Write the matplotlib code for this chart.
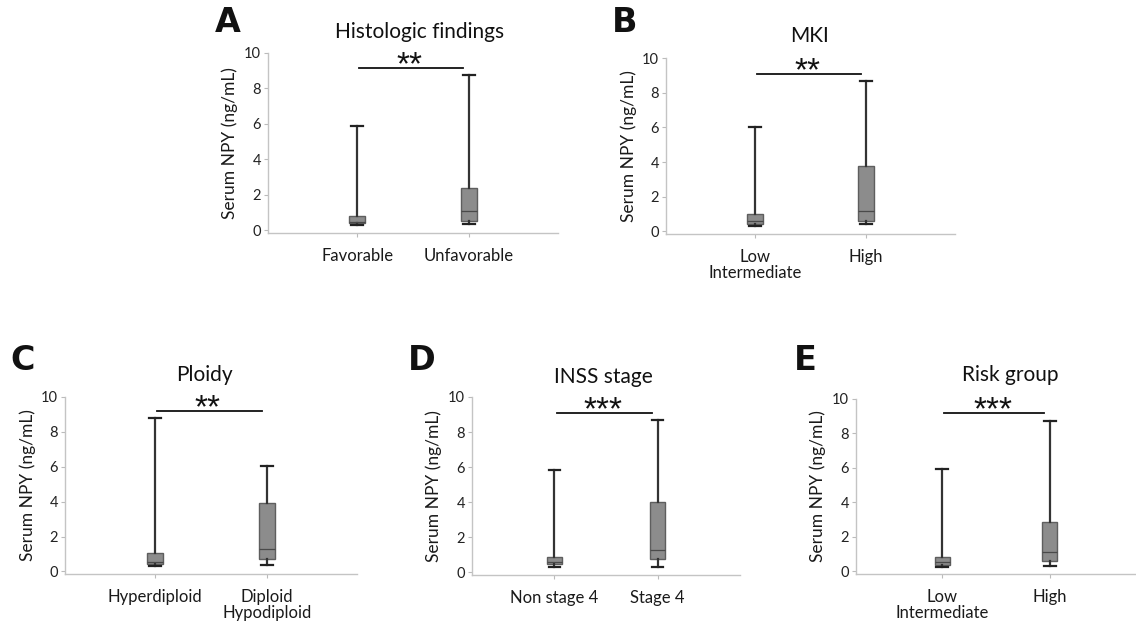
import matplotlib
matplotlib.use('Agg')
import matplotlib.pyplot as plt

plt.rcParams['font.family'] = ['Lato', 'DejaVu Sans']

# panel titles / letters / group labels
letters = ['A', 'B', 'C', 'D', 'E']
titles = ['Histologic findings', 'MKI', 'Ploidy', 'INSS stage', 'Risk group']
groups = [
    ['Favorable', 'Unfavorable'],
    ['Low\nIntermediate', 'High'],
    ['Hyperdiploid', 'Diploid\nHypodiploid'],
    ['Non stage 4', 'Stage 4'],
    ['Low\nIntermediate', 'High'],
]
stars = ['**', '**', '**', '***', '***']

# box stats: [group1, group2] per panel
whis_lo = [[0.30, 0.35], [0.30, 0.40], [0.30, 0.35], [0.30, 0.30], [0.25, 0.30]]
q1      = [[0.40, 0.55], [0.40, 0.60], [0.45, 0.70], [0.45, 0.75], [0.40, 0.60]]
median  = [[0.45, 1.10], [0.60, 1.20], [0.55, 1.30], [0.60, 1.30], [0.55, 1.10]]
q3      = [[0.80, 2.40], [1.00, 3.75], [1.05, 3.90], [0.85, 4.00], [0.85, 2.85]]
whis_hi = [[5.90, 8.75], [6.00, 8.70], [8.80, 6.05], [5.85, 8.70], [5.95, 8.75]]
sig_y   = [9.15, 9.10, 9.20, 9.10, 9.20]

W, H = 1136, 621
# axes boxes in pixels: left, right, top (y=10), bottom (spine)
boxes = [
    (268, 558, 53, 233),
    (666, 955, 58, 234),
    (65, 357, 397, 574),
    (472, 740, 397, 575),
    (856, 1136, 399, 574),
]
letter_pos = [(228, 22), (625, 22), (23, 360), (422, 360), (805, 360)]
title_pos = [(420, 32), (810, 36), (204, 375), (603, 377), (1010, 375)]
YMIN = -0.15

fig = plt.figure(figsize=(W / 100, H / 100), dpi=100)

for i, (l, r, t, b) in enumerate(boxes):
    ax = fig.add_axes([l / W, 1 - b / H, (r - l) / W, (b - t) / H])
    stats = []
    for j in range(2):
        stats.append({
            'whislo': whis_lo[i][j], 'q1': q1[i][j], 'med': median[i][j],
            'q3': q3[i][j], 'whishi': whis_hi[i][j], 'fliers': [],
        })
    ax.bxp(stats, positions=[0, 1], widths=0.14, patch_artist=True,
           showfliers=False,
           boxprops=dict(facecolor='#8c8c8c', edgecolor='#5e5e5e', linewidth=1.0),
           medianprops=dict(color='#4a4a4a', linewidth=0.9),
           whiskerprops=dict(color='#333333', linewidth=1.6),
           capprops=dict(color='#222222', linewidth=1.6),
           capwidths=0.11)
    ax.set_xlim(-0.8, 1.8)
    ax.set_ylim(YMIN, 10)
    ax.set_yticks([0, 2, 4, 6, 8, 10])
    ax.set_xticks([0, 1])
    ax.set_xticklabels(groups[i], fontsize=12, color='#1a1a1a', linespacing=0.95)
    ax.tick_params(axis='y', labelsize=10.5, colors='#bbbbbb', labelcolor='#222222',
                   length=3, width=0.8, pad=2)
    ax.tick_params(axis='x', colors='#bbbbbb', labelcolor='#1a1a1a',
                   length=3, width=0.8, pad=8)
    for s in ['top', 'right']:
        ax.spines[s].set_visible(False)
    for s in ['left', 'bottom']:
        ax.spines[s].set_color('#c4c4c4')
        ax.spines[s].set_linewidth(1.0)
    ax.set_ylabel('Serum NPY (ng/mL)', fontsize=12.5, color='#1a1a1a', labelpad=4)

    # significance bar with stars sitting just above it
    ax.plot([0.02, 0.95], [sig_y[i], sig_y[i]], color='#111111', lw=1.3,
            clip_on=False)
    ax.annotate(stars[i], xy=(0.47, sig_y[i]), xytext=(0, -4.5),
                textcoords='offset points', ha='center', va='baseline',
                fontsize=24, color='#111111', fontfamily='Liberation Sans',
                annotation_clip=False)

    # title and panel letter
    lx, ly = letter_pos[i]
    fig.text(lx / W, 1 - ly / H, letters[i], fontsize=24, fontweight='bold',
             ha='center', va='center', fontfamily='DejaVu Sans', color='#111111')
    tx, ty = title_pos[i]
    fig.text(tx / W, 1 - ty / H, titles[i], fontsize=15, ha='center',
             va='center', color='#111111')

fig.savefig('out.png', dpi=100, facecolor='white')
